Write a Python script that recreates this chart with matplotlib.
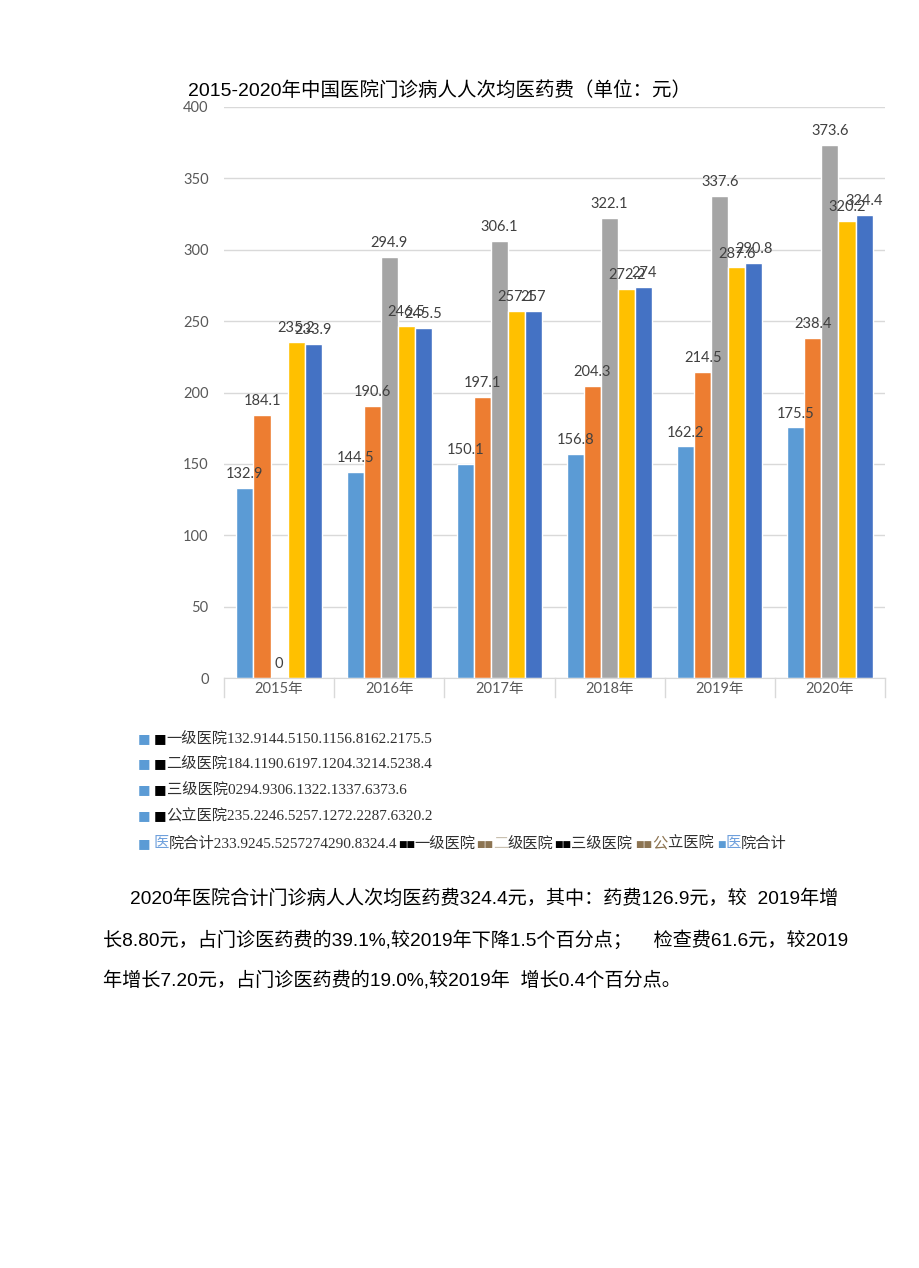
import numpy as np
import matplotlib.pyplot as plt
from matplotlib.transforms import blended_transform_factory

# 数据
years = ["2015年", "2016年", "2017年", "2018年", "2019年", "2020年"]
yiji = [132.9, 144.5, 150.1, 156.8, 162.2, 175.5]
erji = [184.1, 190.6, 197.1, 204.3, 214.5, 238.4]
sanji = [0, 294.9, 306.1, 322.1, 337.6, 373.6]
gongli = [235.2, 246.5, 257.1, 272.2, 287.6, 320.2]
heji = [233.9, 245.5, 257, 274, 290.8, 324.4]
series_names = ["一级医院", "二级医院", "三级医院", "公立医院", "医院合计"]
series_vals = [yiji, erji, sanji, gongli, heji]
cores = ["#5B9BD5", "#ED7D31", "#A5A5A5", "#FFC000", "#4472C4"]
y_ticks = [0, 50, 100, 150, 200, 250, 300, 350, 400]

titulo = "2015-2020年中国医院门诊病人人次均医药费（单位：元）"
paragrafo = [
    "2020年医院合计门诊病人人次均医药费324.4元，其中：药费126.9元，较  2019年增",
    "长8.80元，占门诊医药费的39.1%,较2019年下降1.5个百分点；    检查费61.6元，较2019",
    "年增长7.20元，占门诊医药费的19.0%,较2019年  增长0.4个百分点。",
]

W, H = 920, 1268
fig = plt.figure(figsize=(W / 100, H / 100), dpi=100)
fig.patch.set_facecolor("white")

fonte_graf = ["Lato", "Noto Sans CJK SC", "DejaVu Sans"]
fonte_leg = ["Liberation Serif", "Noto Sans CJK SC", "DejaVu Sans"]
fonte_txt = ["Liberation Sans", "Noto Sans CJK SC", "DejaVu Sans"]
fonte_q = ["DejaVu Sans"]


def fx(px):
    return px / W


def fy(py):
    return 1 - py / H


ax = fig.add_axes([fx(224), fy(678), fx(885) - fx(224), fy(107) - fy(678)])
x = np.arange(len(years))
larg = 0.155
for i, (vals, cor) in enumerate(zip(series_vals, cores)):
    pos = x + (i - 2) * larg
    ax.bar(pos, vals, width=larg, color=cor, edgecolor="white", linewidth=1, zorder=3)
    for xp, v in zip(pos, vals):
        ax.annotate("%g" % v, (xp, v), xytext=(0, 5), textcoords="offset points",
                    ha="center", va="bottom", fontsize=10.5, color="#404040",
                    family=fonte_graf, zorder=4)

ax.set_xlim(-0.5, len(years) - 0.5)
ax.set_ylim(0, 400)
ax.set_yticks(y_ticks)
ax.set_xticks(x)
ax.set_xticklabels(years, family=fonte_graf, fontsize=10.5, color="#595959")
for lb in ax.get_yticklabels():
    lb.set_family(fonte_graf)
    lb.set_fontsize(10.5)
    lb.set_color("#595959")
ax.tick_params(axis="y", length=0, pad=11)
ax.tick_params(axis="x", length=0, pad=3)
ax.grid(axis="y", color="#D9D9D9", linewidth=1, zorder=0)
for s in ["top", "right", "left"]:
    ax.spines[s].set_visible(False)
ax.spines["bottom"].set_color("#D9D9D9")
ax.spines["bottom"].set_zorder(5)

# separadores das categorias
tr = blended_transform_factory(ax.transData, ax.transAxes)
for b in np.arange(-0.5, len(years), 1.0):
    ax.plot([b, b], [0, -0.034], color="#D9D9D9", linewidth=1, transform=tr, clip_on=False)

fig.text(fx(188), fy(91), titulo, fontsize=14, color="black", family=fonte_txt,
         ha="left", va="center")

fig.canvas.draw()
renderer = fig.canvas.get_renderer()


def segmentos(x0, y0, segs, tam):
    xp = x0
    for s, cor, t in segs:
        fam = fonte_q if "■" in s else fonte_leg
        tx = fig.text(fx(xp), fy(y0), s, color=cor, fontsize=t if t else tam,
                      family=fam, ha="left", va="center")
        xp += tx.get_window_extent(renderer).width
    return xp


escuro = "#303030"
azul = cores[0]
marrom = "#8C7452"
ys_leg = [739, 764, 790, 816]
for nome, vals, yl in zip(series_names[:4], series_vals[:4], ys_leg):
    nums = "".join("%g" % v for v in vals)
    fig.text(fx(138), fy(yl), "■", color=azul, fontsize=9.5, family=fonte_q, va="center")
    segmentos(154, yl, [("■", "black", 9.5), (nome + nums, escuro, None)], 11)

nums_h = "".join("%g" % v for v in heji)
fig.text(fx(138), fy(844), "■", color=azul, fontsize=9.5, family=fonte_q, va="center")
segmentos(154, 844, [
    ("医", "#6FA0DC", None), ("院合计" + nums_h, escuro, None),
    ("■■", "black", 6.5), ("一级医院", escuro, None),
    ("■■", marrom, 6.5), ("二", "#C9C0B0", None), ("级医院", escuro, None),
    ("■■", "black", 6.5), ("三级医院 ", escuro, None),
    ("■■", marrom, 6.5), ("公", marrom, None), ("立医院 ", escuro, None),
    ("■", azul, 6.5), ("医", "#6FA0DC", None), ("院合计", escuro, None),
], 11)

# texto
for i, (linha, yp) in enumerate(zip(paragrafo, [899, 940, 980])):
    x0 = 130 if i == 0 else 103
    fig.text(fx(x0), fy(yp), linha, fontsize=13.8, color="black", family=fonte_txt,
             ha="left", va="center")

fig.savefig("out.png", dpi=100, facecolor="white")
